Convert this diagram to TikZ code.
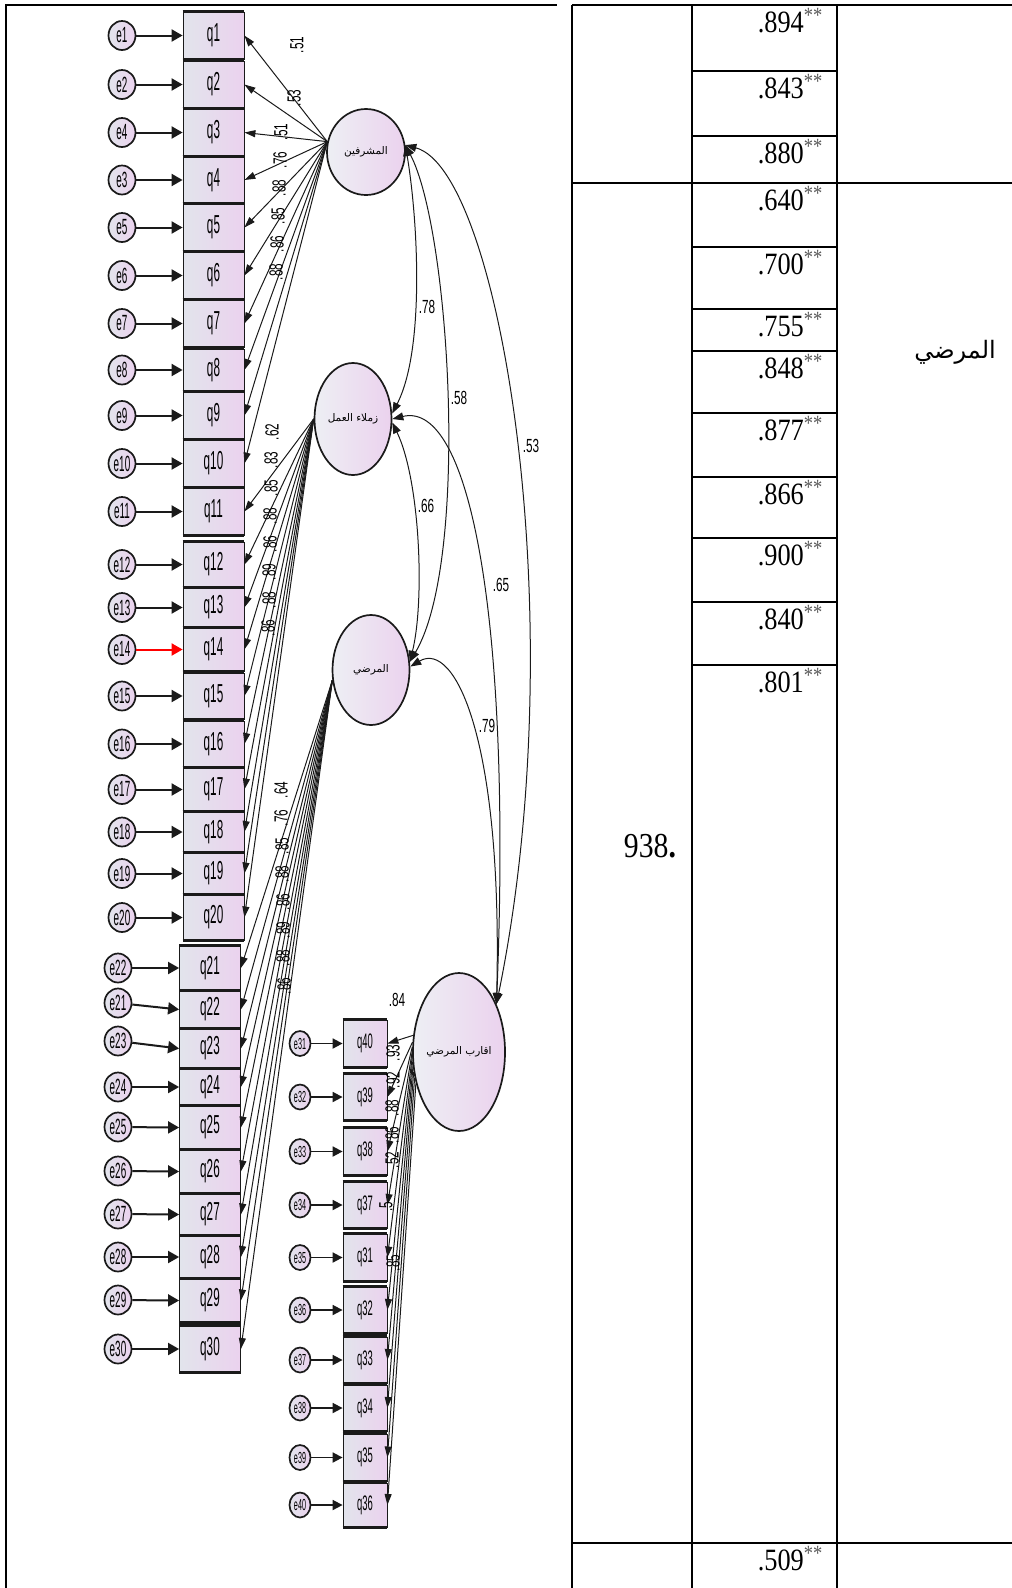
\documentclass[tikz,border=0pt]{standalone}
\usepackage{fontspec}
\setmainfont{Liberation Serif}
\newfontfamily\narrowsans[FakeStretch=0.45]{Liberation Sans}
\newfontfamily\midsans[FakeStretch=0.62]{Liberation Sans}
\newfontfamily\tabserif[FakeStretch=0.85]{Liberation Serif}
\newfontfamily\arabicfont[Script=Arabic]{DejaVu Sans}
\TeXXeTstate=1
\usetikzlibrary{arrows.meta,shapes.geometric}
\definecolor{fillL}{HTML}{E2E4EC}
\definecolor{fillR}{HTML}{EBD2EE}
\definecolor{ink}{HTML}{1A1A1A}
\tikzset{
  obs/.style={rectangle, draw=ink, line width=0.8pt, left color=fillL, right color=fillR,
    minimum width=61pt, inner sep=0pt, font=\narrowsans\fontsize{26}{26}\selectfont},
  obsR/.style={obs, minimum width=44pt, font=\narrowsans\fontsize{21}{21}\selectfont},
  err/.style={ellipse, draw=ink, line width=1.7pt, left color=fillL, right color=fillR,
    minimum width=27pt, minimum height=29pt, inner sep=0pt, font=\narrowsans\fontsize{22}{22}\selectfont},
  errR/.style={err, minimum width=21pt, minimum height=25pt, font=\narrowsans\fontsize{16}{16}\selectfont},
  lat/.style={ellipse, draw=ink, line width=1.7pt, left color=fillL!60!white, right color=fillR,
    inner sep=0pt, font=\arabicfont\fontsize{10.5}{12}\selectfont},
  sep/.style={line width=2.6pt, draw=ink},
  errarrow/.style={-{Triangle[length=11pt,width=12pt]}, line width=2pt, draw=ink},
  errarrowR/.style={-{Triangle[length=10pt,width=10pt]}, line width=1.8pt, draw=ink},
  load/.style={-{Triangle[length=11pt,width=7pt]}, line width=1pt, draw=ink},
  cov/.style={{Triangle[length=11pt,width=8pt]}-{Triangle[length=11pt,width=8pt]}, line width=1pt, draw=ink},
  lbl/.style={font=\midsans\fontsize{19}{19}\selectfont, inner sep=0pt},
  vlbl/.style={lbl, rotate=90},
  tline/.style={line width=2pt, draw=black},
  tabval/.style={anchor=base east, inner sep=0pt, font=\tabserif\fontsize{31}{31}\selectfont}
}
\begin{document}
\begin{tikzpicture}[x=1pt,y=-1pt]
\useasboundingbox (0,0) rectangle (1012,1588);

% ---------- measurement model: items q1--q20 ----------
\foreach \n/\el/\t/\b in {1/e1/12/59,2/e2/61/108,3/e4/109/156,4/e3/157/203,5/e5/204/251,
  6/e6/252/299,7/e7/300/347,8/e8/349/391,9/e9/392/439,10/e10/440/487,11/e11/488/535,
  12/e12/542/587,13/e13/588/627,14/e14/628/671,15/e15/673/719,16/e16/721/767,
  17/e17/768/811,18/e18/812/852,19/e19/853/894,20/e20/895/940}{
  \pgfmathsetmacro\yc{(\t+\b)/2}
  \pgfmathsetmacro\hh{\b-\t}
  \node[obs, minimum height=\hh pt] (q\n) at (213.5,\yc) {q\n};
  \draw[sep] (q\n.north west) -- (q\n.north east) (q\n.south west) -- (q\n.south east);
  \node[err] (er\n) at (122,\yc) {\el};
}
% ---------- items q21--q30 ----------
\foreach \n/\el/\t/\b/\ey in {21/e22/946/990/968,22/e21/991/1028/1003,23/e23/1029/1068/1041,
  24/e24/1069/1105/1087,25/e25/1106/1149/1127,26/e26/1150/1193/1171,27/e27/1194/1235/1214,
  28/e28/1236/1278/1257,29/e29/1279/1322/1300,30/e30/1326/1372/1349}{
  \pgfmathsetmacro\yc{(\t+\b)/2}
  \pgfmathsetmacro\hh{\b-\t}
  \node[obs, minimum height=\hh pt] (q\n) at (210,\yc) {q\n};
  \draw[sep] (q\n.north west) -- (q\n.north east) (q\n.south west) -- (q\n.south east);
  \node[err] (er\n) at (118,\ey) {\el};
}
% ---------- items q31--q40 ----------
\foreach \n/\el/\t/\b in {40/e31/1020/1067,39/e32/1074/1120,38/e33/1128/1175,37/e34/1182/1228,
  31/e35/1234/1281,32/e36/1287/1333,33/e37/1337/1383,34/e38/1385/1431,35/e39/1434/1481,36/e40/1483/1527}{
  \pgfmathsetmacro\yc{(\t+\b)/2}
  \pgfmathsetmacro\hh{\b-\t}
  \node[obsR, minimum height=\hh pt] (q\n) at (365,\yc) {q\n};
  \draw[sep] (q\n.north west) -- (q\n.north east) (q\n.south west) -- (q\n.south east);
  \node[errR] (er\n) at (300,\yc) {\el};
}

% error terms
\foreach \n in {1,...,13,15,16,17,18,19,20,21,22,23,24,25,26,27,28,29,30}
  \draw[errarrow] (er\n) -- (q\n.west);
\draw[errarrow, draw=red] (er14) -- (q14);
\foreach \n in {31,...,40}
  \draw[errarrowR] (er\n) -- (q\n);

% ---------- latent factors ----------
\node[lat, minimum width=78pt, minimum height=86pt] (sup) at (366,152) {\beginR المشرفين\endR};
\node[lat, minimum width=77pt, minimum height=112pt] (zm) at (353,419) {\beginR زملاء العمل\endR};
\node[lat, minimum width=77pt, minimum height=110pt] (md) at (371,670) {\beginR المرضي\endR};
\node[lat, minimum width=92pt, minimum height=158pt] (ak) at (459,1052) {\beginR اقارب المرضي\endR};

% loadings
\foreach \n in {1,...,10} \draw[load] (sup.165) -- (q\n.east);
\foreach \n in {11,...,20} \draw[load] (zm.west) -- (q\n.east);
\foreach \n in {21,...,30} \draw[load] (md.195) -- (q\n.east);
\foreach \n/\a in {40/160,39/168,38/174,37/180,31/186,32/192,33/198,34/204,35/210,36/216}
  \draw[load] (ak.\a) -- (q\n.east);

% loading estimates
\node[vlbl] at (297,45) {.51};
\node[vlbl] at (294,98) {.53};
\node[vlbl] at (281,132) {.51};
\node[vlbl] at (280,160) {.76};
\node[vlbl] at (279,188) {.88};
\node[vlbl] at (278,216) {.85};
\node[vlbl] at (277,244) {.86};
\node[vlbl] at (276,272) {.88};
\node[vlbl] at (272,432) {.62};
\node[vlbl] at (271,460) {.83};
\node[vlbl] at (271,488) {.85};
\node[vlbl] at (270,516) {.88};
\node[vlbl] at (270,544) {.86};
\node[vlbl] at (269,572) {.89};
\node[vlbl] at (269,600) {.88};
\node[vlbl] at (268,628) {.86};
\node[vlbl] at (281,790) {.64};
\node[vlbl] at (281,818) {.76};
\node[vlbl] at (282,846) {.85};
\node[vlbl] at (282,874) {.88};
\node[vlbl] at (283,902) {.86};
\node[vlbl] at (283,930) {.89};
\node[vlbl] at (283,958) {.88};
\node[vlbl] at (284,986) {.86};
\node[lbl] at (397,1000) {.84};
\node[vlbl] at (393,1053) {.93};
\node[vlbl] at (393,1080) {.92};
\node[vlbl] at (392,1108) {.88};
\node[vlbl] at (392,1135) {.86};
\node[vlbl] at (392,1160) {.52};
\node[vlbl] at (386,1207) {.5};
\node[vlbl] at (393,1263) {.85};

% factor covariances
\draw[cov] (sup.10) .. controls (418,220) and (425,350) .. (zm.8);
\draw[cov] (sup.10) .. controls (450,230) and (470,560) .. (md.12);
\draw[cov] (sup.10) .. controls (500,170) and (575,620) .. (ak.52);
\draw[cov] (zm.-5) .. controls (420,480) and (425,600) .. (md.12);
\draw[cov] (zm.east) .. controls (470,400) and (512,620) .. (ak.52);
\draw[cov] (md.5) .. controls (455,640) and (503,740) .. (ak.52);
\node[lbl] (c78) at (427,307) {.78};
\node[lbl] (c58) at (459,398) {.58};
\node[lbl] (c53) at (531,446) {.53};
\node[lbl] (c66) at (426,506) {.66};
\node[lbl] (c65) at (501,585) {.65};
\node[lbl] (c79) at (487,726) {.79};

% ---------- table ----------
\draw[tline] (6,4) -- (6,1588);
\draw[tline] (5,5) -- (557,5);
\draw[tline] (572,5) -- (1012,5);
\foreach \x in {572,692,837} \draw[tline] (\x,5) -- (\x,1588);
\foreach \y in {183,1543} \draw[tline] (572,\y) -- (1012,\y);
\foreach \y in {71,136,247,309,351,413,477,538,602,665} \draw[tline] (692,\y) -- (837,\y);
\foreach \v/\t in {.894/5,.843/71,.880/136,.640/183,.700/247,.755/309,.848/351,
  .877/413,.866/477,.900/538,.840/602,.801/665,.509/1543}{
  \pgfmathsetmacro\yb{\t+27}
  \node[tabval] at (823,\yb) {\v\textsuperscript{\color{black!65}**}};
}
\node[anchor=base, inner sep=0pt, font=\tabserif\fontsize{35}{35}\selectfont] (tot) at (650,857) {938\textbf{.}};
\node[inner sep=0pt, font=\arabicfont\fontsize{24}{28}\selectfont] (lab) at (955,352) {\beginR المرضي\endR};
\end{tikzpicture}
\end{document}
